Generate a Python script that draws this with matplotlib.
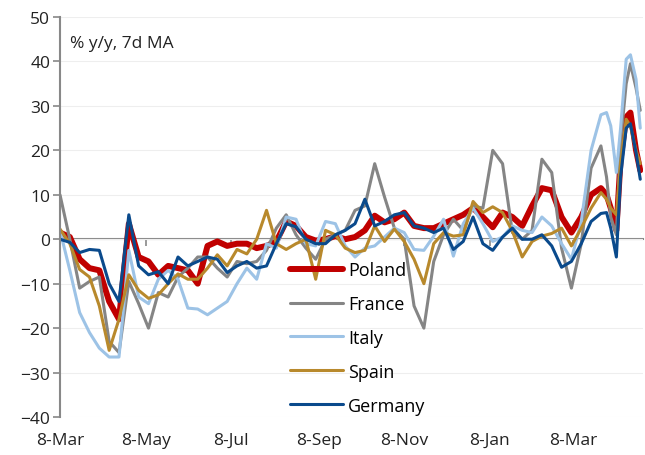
import numpy as np
import pandas as pd
import matplotlib
matplotlib.use("Agg")
import matplotlib.pyplot as plt
import matplotlib.dates as mdates

plt.rcParams['font.family'] = ['Open Sans', 'DejaVu Sans']

# weekly points, then ~half-weekly points for the last weeks
dates = list(pd.date_range('2020-03-08', periods=56, freq='7D')) + list(pd.to_datetime(
    ['2021-04-01', '2021-04-04', '2021-04-08', '2021-04-11',
     '2021-04-15', '2021-04-18', '2021-04-22', '2021-04-25']))

poland = [1.5, 0.5, -4.5, -6.5, -7, -14, -18, 3.5, -4, -5,
          -8, -6, -6.5, -7, -10, -1.5, -0.5, -1.5, -1, -1,
          -2, -1.5, -0.5, 4, 3, 0.5, -0.3, 0, 0.7, 0,
          0.5, 2, 5.3, 3.8, 4.5, 6, 3, 2.5, 2.5, 3.5,
          4.5, 5.5, 7, 5, 2.7, 6, 5, 3, 7.5, 11.5,
          11, 5, 1.5, 5, 10, 11.5,
          10, 7, 2, 18, 27.5, 28.5, 20, 15.5]
france = [10, 0, -11, -9.5, -8.5, -23, -25.5, -9.5, -14.5, -20,
          -12, -13, -8.5, -6.5, -4, -4, -6.5, -8.5, -5, -5.5,
          -5, -2.5, 2.5, 5.5, 1, -2, -4.5, 0, 1, 2,
          6.5, 7.5, 17, 9.5, 2.5, 0, -15, -20, -5, 1,
          4.5, 2, 7.5, 7, 20, 17, 1.5, 0, 2, 18,
          15, -2, -11, -1, 16, 21,
          14, 5, 1, 22, 35, 39.5, 34, 29]
italy = [2, -7, -16.5, -21, -24.5, -26.5, -26.5, -2.5, -13, -14.5,
         -9, -7, -9, -15.5, -15.7, -17, -15.5, -14, -10, -6.5,
         -9, -1, -2, 5, 4.5, -1, -1.5, 4, 3.5, -1.5,
         -4, -2, -1.5, 0.5, 2.5, 1.5, -2.3, -2.5, 0.7, 4.5,
         -3.8, 3.5, 7, 3.5, -0.5, 0.5, 3, 2, 1.5, 5,
         3, -1, -4.5, 4, 20, 28,
         28.5, 25.5, 15, 25, 40.5, 41.5, 36, 25]
spain = [2.3, -1, -6.8, -8.5, -15, -25, -18, -8, -11.5, -13.3,
         -12.5, -10, -7.8, -9, -9, -6.5, -3.5, -6, -2.3, -3.3,
         0, 6.5, -1, -2.3, -1, 0, -9, 2, 1, -2,
         -3, -2.5, 3, -0.5, 2.3, -0.5, -4.5, -10, -1, 1.5,
         0.7, 1, 8.5, 6, 7.3, 6, 1.8, -4, -0.5, 0.7,
         1.3, 2.5, -1.5, 2.5, 7, 10.5,
         9, 7, 5.5, 17, 27, 25.5, 20, 17]
germany = [0, -0.7, -3, -2.3, -2.5, -10, -14, 5.5, -6, -8,
           -7.3, -10, -4, -6, -5, -4, -4.5, -7.5, -6, -5,
           -6.5, -6, -1, 3.5, 2.8, 0, -1, -1, 1, 2,
           3.5, 9, 3, 4, 5.5, 6, 3, 2.5, 1.5, 2.5,
           -2.3, -0.5, 5, -1, -2.5, 0.5, 2.5, 0, 0, 1,
           -1.5, -6.3, -5, -1, 4, 5.8,
           6, 2.5, -4, 14, 25, 26, 19.5, 13.5]

series = [("Poland", poland, "#C00000", 4.3),
          ("France", france, "#858585", 2.2),
          ("Italy", italy, "#9DC3E6", 2.2),
          ("Spain", spain, "#B8892C", 2.2),
          ("Germany", germany, "#0A4A8C", 2.2)]

tick_dates = pd.to_datetime(['2020-03-08', '2020-05-08', '2020-07-08', '2020-09-08',
                             '2020-11-08', '2021-01-08', '2021-03-08'])
tick_labels = ['8-Mar', '8-May', '8-Jul', '8-Sep', '8-Nov', '8-Jan', '8-Mar']

fig = plt.figure(figsize=(6.45, 4.56), dpi=100)
ax = fig.add_axes([0.093, 0.0833, 0.904, 0.8772])

for name, vals, col, lw in series:
    ax.plot(dates, vals, color=col, lw=lw, label=name, solid_capstyle='round')

ax.set_ylim(-40, 50)
ax.set_xlim(pd.Timestamp('2020-03-08'), pd.Timestamp('2021-04-27'))
ax.set_yticks(np.arange(-40, 51, 10))
ax.grid(axis='y', color='#eeeeee', lw=0.8)
ax.set_axisbelow(True)

for s in ['top', 'right']:
    ax.spines[s].set_visible(False)
ax.spines['left'].set_color('#888888')
ax.spines['left'].set_linewidth(1.5)
ax.spines['bottom'].set_position(('data', 0))
ax.spines['bottom'].set_color('#888888')
ax.spines['bottom'].set_linewidth(1.5)
ax.spines['bottom'].set_zorder(0.5)

ax.set_xticks(tick_dates)
ax.tick_params(axis='x', direction='out', length=5, width=1.2, color='#888888', labelbottom=False)
ax.tick_params(axis='y', direction='out', length=5, width=1.2, color='#888888',
               labelsize=12.5, labelcolor='#222222', pad=2)

sec = ax.secondary_xaxis('bottom')
sec.set_xticks(mdates.date2num(tick_dates))
sec.set_xticklabels(tick_labels)
sec.tick_params(length=0, labelsize=12.5, labelcolor='#222222', pad=11)
sec.spines['bottom'].set_visible(False)

ax.text(0.018, 0.935, '% y/y, 7d MA', transform=ax.transAxes, fontsize=12.5,
        color='#222222', va='center', ha='left')

ax.legend(loc='upper left', bbox_to_anchor=(0.395, 0.39), frameon=False,
          fontsize=13, handlelength=2.9, handletextpad=0.3, labelspacing=0.88,
          borderpad=0, borderaxespad=0)

fig.savefig('out.png', dpi=100)
